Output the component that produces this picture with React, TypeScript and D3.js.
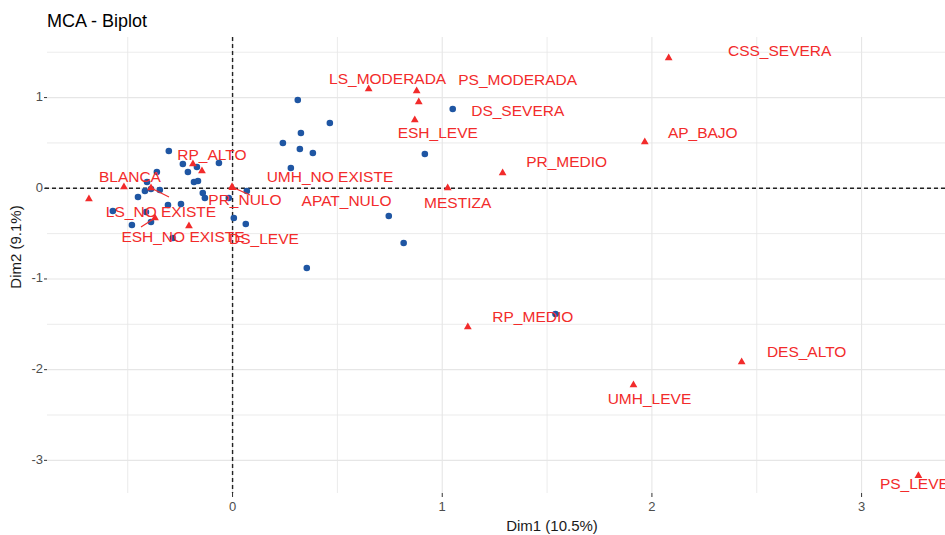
import * as d3 from 'd3';

// individuals (blue points)
const indX = [-0.304, -0.237, -0.213, -0.170, -0.065, -0.361, -0.408, -0.418, -0.389, -0.347,
  -0.184, -0.165, -0.451, -0.142, -0.132, -0.308, -0.246, -0.571, -0.413, -0.389,
  -0.480, -0.285, -0.018, 0.068, 0.006, 0.063, 0.311, 0.464, 0.326, 0.240,
  0.321, 0.383, 0.278, 0.745, 0.816, 0.354, 1.050, 0.917, 1.540];
const indY = [0.411, 0.268, 0.180, 0.235, 0.279, 0.180, 0.069, -0.030, -0.008, -0.019,
  0.069, 0.080, -0.096, -0.052, -0.107, -0.184, -0.173, -0.250, -0.261, -0.372,
  -0.405, -0.548, -0.107, -0.030, -0.328, -0.394, 0.973, 0.720, 0.609, 0.499,
  0.433, 0.389, 0.224, -0.305, -0.603, -0.879, 0.874, 0.378, -1.387];

// categories (red triangles)
const catNames = ['CSS_SEVERA', 'LS_MODERADA', 'PS_MODERADA', 'DS_SEVERA', 'ESH_LEVE', 'AP_BAJO',
  'PR_MEDIO', 'MESTIZA', 'PR_NULO', 'APAT_NULO', 'UMH_NO EXISTE', 'RP_ALTO', 'BLANCA',
  'LS_NO EXISTE', 'ESH_NO EXISTE', 'DS_LEVE', '', 'RP_MEDIO', 'DES_ALTO', 'UMH_LEVE', 'PS_LEVE'];
const catX = [2.080, 0.649, 0.878, 0.888, 0.869, 1.966, 1.288, 1.026, -0.003, 0.000, -0.146, -0.189,
  -0.518, -0.389, -0.370, -0.208, -0.685, 1.122, 2.428, 1.912, 3.271];
const catY = [1.436, 1.094, 1.072, 0.951, 0.753, 0.510, 0.169, 0.003, 0.014, 0.005, 0.191, 0.268,
  0.014, 0.003, -0.328, -0.416, -0.118, -1.529, -1.915, -2.169, -3.170];

const xTicks = [0, 1, 2, 3];
const yTicks = [1, 0, -1, -2, -3];

// repelled label placement (pixel offsets from the point) and connector segments
const labelOffset: Record<string, [number, number]> = {
  'CSS_SEVERA': [111, -6], 'LS_MODERADA': [19, -9], 'PS_MODERADA': [101, -10],
  'DS_SEVERA': [99, 10], 'ESH_LEVE': [23, 14], 'AP_BAJO': [58, -8], 'PR_MEDIO': [64, -10],
  'MESTIZA': [10, 16], 'PR_NULO': [13, 14], 'APAT_NULO': [114, 14], 'UMH_NO EXISTE': [128, 7],
  'RP_ALTO': [19, -8], 'BLANCA': [6, -9], 'LS_NO EXISTE': [10, 25], 'ESH_NO EXISTE': [28, 20],
  'DS_LEVE': [75, 14], 'RP_MEDIO': [65, -9], 'DES_ALTO': [65, -9], 'UMH_LEVE': [16, 15],
  'PS_LEVE': [-4, 9]
};
const segmentEnd: Record<string, [number, number]> = {
  'PR_NULO': [18, 8], 'LS_NO EXISTE': [18, 9], 'ESH_NO EXISTE': [-14, 9]
};

const W = 945;
const H = 535;
const RED = '#F22B2B';
const BLUE = '#1F56A3';

export default function App() {
  const left = 47, right = 1057, top = 37, bottom = 493;

  const x = d3.scaleLinear().domain([-0.885, 3.932]).range([left, right]);
  const y = d3.scaleLinear().domain([-3.36, 1.668]).range([bottom, top]);

  const majorX = d3.range(-0.5, 4, 0.5);
  const majorY = d3.range(-3, 1.6, 0.5);
  const tri = d3.symbol().type(d3.symbolTriangle).size(26)() || '';

  return (
    <div style={{ position: 'fixed', left: 0, top: 0, width: W, height: H, overflow: 'hidden', background: '#fff' }}>
      <svg width={W} height={H} style={{ display: 'block', fontFamily: '"Liberation Sans", Arial, sans-serif' }}>
        <text x={left} y={27} fontSize={18} fill="#000">MCA - Biplot</text>

        {/* grid */}
        {majorX.map(v => (
          <line key={'gx' + v} x1={x(v)} x2={x(v)} y1={top} y2={bottom}
            stroke="#E6E6E6" strokeWidth={Number.isInteger(v) ? 1.1 : 0.8} />
        ))}
        {majorY.map(v => (
          <line key={'gy' + v} x1={left} x2={W} y1={y(v)} y2={y(v)}
            stroke="#E6E6E6" strokeWidth={Number.isInteger(v) ? 1.1 : 0.8} />
        ))}

        {/* axes ticks + labels */}
        {xTicks.map(t => (
          <g key={'xt' + t}>
            <line x1={x(t)} x2={x(t)} y1={bottom} y2={bottom + 4} stroke="#333" strokeWidth={1} />
            <text x={x(t)} y={bottom + 15} textAnchor="middle" dominantBaseline="middle" fontSize={13} fill="#4D4D4D">{t}</text>
          </g>
        ))}
        {yTicks.map(t => (
          <g key={'yt' + t}>
            <line x1={left - 3} x2={left} y1={y(t)} y2={y(t)} stroke="#333" strokeWidth={1} />
            <text x={left - 4} y={y(t)} textAnchor="end" dominantBaseline="middle" fontSize={13} fill="#4D4D4D">{t}</text>
          </g>
        ))}
        <text x={(left + right) / 2} y={527} textAnchor="middle" dominantBaseline="middle" fontSize={15} fill="#1a1a1a">Dim1 (10.5%)</text>
        <text x={17} y={247} textAnchor="middle" dominantBaseline="middle" fontSize={15} fill="#1a1a1a"
          transform={`rotate(-90, 17, 247)`}>Dim2 (9.1%)</text>

        {/* reference lines */}
        <line x1={x(0)} x2={x(0)} y1={top} y2={bottom} stroke="#222" strokeWidth={1.4} strokeDasharray="4,3" />
        <line x1={left - 2} x2={W} y1={y(0)} y2={y(0)} stroke="#222" strokeWidth={1.4} strokeDasharray="4,3" />

        {/* individuals */}
        {indX.map((v, i) => (
          <circle key={'p' + i} cx={x(v)} cy={y(indY[i])} r={3.3} fill={BLUE} />
        ))}

        {/* categories */}
        {catNames.map((n, i) => (
          <path key={'c' + i} d={tri} transform={`translate(${x(catX[i])},${y(catY[i])})`} fill={RED} />
        ))}
        {catNames.map((n, i) => {
          const s = segmentEnd[n];
          if (!s) return null;
          const px = x(catX[i]), py = y(catY[i]);
          return <line key={'s' + i} x1={px} y1={py} x2={px + s[0]} y2={py + s[1]} stroke={RED} strokeWidth={1.2} />;
        })}
        {catNames.map((n, i) => {
          const o = labelOffset[n];
          if (!n || !o) return null;
          return (
            <text key={'l' + i} x={x(catX[i]) + o[0]} y={y(catY[i]) + o[1]} textAnchor="middle"
              dominantBaseline="middle" fontSize={15.5} fill={RED}>{n}</text>
          );
        })}
      </svg>
    </div>
  );
}
